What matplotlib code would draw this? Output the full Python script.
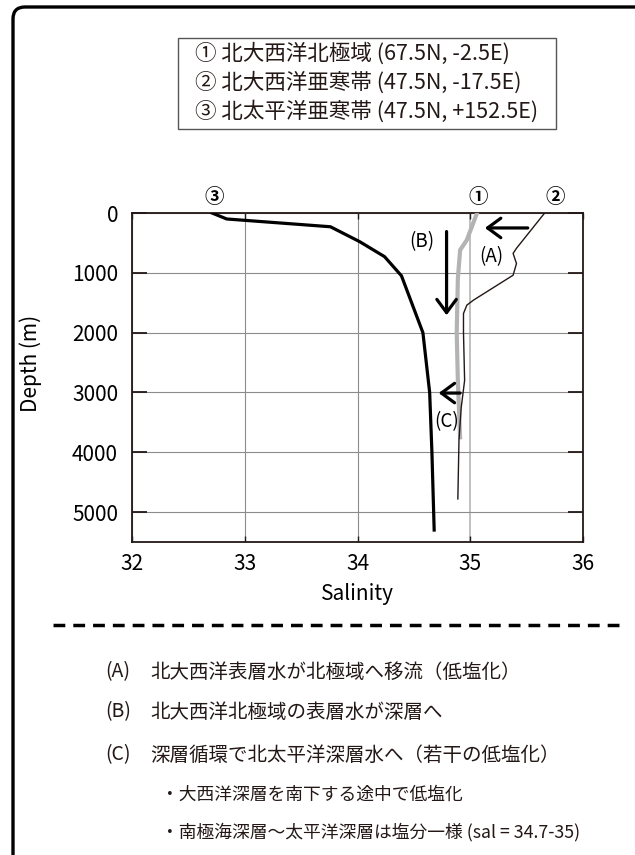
import matplotlib
matplotlib.use("Agg")
import matplotlib.pyplot as plt
from matplotlib.patches import Rectangle, FancyBboxPatch
from matplotlib.lines import Line2D
import matplotlib.transforms as mtransforms

plt.rcParams['font.family'] = ['Noto Sans CJK JP', 'DejaVu Sans']

# Salinity profiles (depth in m, salinity)
depth_st1 = [0, 450, 620, 1100, 2000, 2800, 3750]
sal_st1 = [35.06, 34.97, 34.91, 34.89, 34.88, 34.89, 34.91]

depth_st2 = [0, 590, 675, 845, 1040, 1455, 1540, 1680, 2000, 2800, 3250, 3800, 4780]
sal_st2 = [35.66, 35.41, 35.38, 35.41, 35.38, 35.03, 34.97, 34.94, 34.94, 34.95, 34.92, 34.90, 34.89]

depth_st3 = [0, 100, 230, 480, 730, 1050, 2000, 3000, 4000, 5300]
sal_st3 = [32.71, 32.84, 33.76, 34.02, 34.24, 34.39, 34.58, 34.64, 34.66, 34.68]

station_marks = ['①', '②', '③']
station_mark_sal = [35.07, 35.75, 32.73]

legend_lines = [
    '① 北大西洋北極域 (67.5N, -2.5E)',
    '② 北大西洋亜寒帯 (47.5N, -17.5E)',
    '③ 北太平洋亜寒帯 (47.5N, +152.5E)',
]

xticks = [32, 33, 34, 35, 36]
yticks = [0, 1000, 2000, 3000, 4000, 5000]

notes = [
    ('(A)', '北大西洋表層水が北極域へ移流（低塩化）'),
    ('(B)', '北大西洋北極域の表層水が深層へ'),
    ('(C)', '深層循環で北太平洋深層水へ（若干の低塩化）'),
]
sub_notes = [
    '・大西洋深層を南下する途中で低塩化',
    '・南極海深層〜太平洋深層は塩分一様 (sal = 34.7-35)',
]

W, H = 635, 855
fig = plt.figure(figsize=(W / 100, H / 100), dpi=100)

def fx(px):
    return px / W

def fy(py):
    return 1 - py / H

ink = '#231815'

# Outer rounded frame
frame = FancyBboxPatch((0.13, -0.4), 6.6, 8.55 - 0.07 + 0.4,
                       boxstyle='round,pad=0,rounding_size=0.12',
                       transform=fig.dpi_scale_trans, fill=False,
                       edgecolor='black', linewidth=2.4)
fig.patches.append(frame)

# Station legend box
fig.patches.append(Rectangle((fx(178), fy(129)), fx(378), 91 / H,
                             transform=fig.transFigure, fill=False,
                             edgecolor='#555555', linewidth=1.0))
for text, py in zip(legend_lines, [54, 83, 111]):
    fig.text(fx(195), fy(py), text, fontsize=15.5, va='center', ha='left', color=ink)

# Profile plot
ax = fig.add_axes([fx(132), fy(542), fx(583) - fx(132), (542 - 213) / H])
ax.plot(sal_st1, depth_st1, color='#b3b3b3', linewidth=3.0, zorder=3)
ax.plot(sal_st2, depth_st2, color=ink, linewidth=1.0, zorder=4)
ax.plot(sal_st3, depth_st3, color='black', linewidth=2.3, zorder=5)

ax.set_xlim(32, 36)
ax.set_ylim(5500, 0)
ax.set_xticks(xticks)
ax.set_yticks(yticks)
ax.grid(True, color='#8c8c8c', linewidth=0.8)
for gl, xv in zip(ax.get_xgridlines(), xticks):
    if xv == 35:
        gl.set_color('#c0c0c0')
        gl.set_linewidth(1.4)
ax.set_axisbelow(True)

for s in ax.spines.values():
    s.set_color(ink)
    s.set_linewidth(1.3)

ax.tick_params(axis='y', direction='in', length=11, width=1.3, color=ink,
               left=True, right=True, labelsize=15, pad=10)
ax.tick_params(axis='x', direction='in', length=4, width=1.0, color=ink,
               bottom=True, top=True, labelsize=15, pad=8)

ax.set_xlabel('Salinity', fontsize=15)
ax.set_ylabel('Depth (m)', fontsize=15)
ax.xaxis.set_label_coords(0.5, -0.125)
ax.yaxis.set_label_coords(-0.2, 0.544)

# Station markers above the axes
trans = mtransforms.blended_transform_factory(ax.transData, ax.transAxes)
for mark, xv in zip(station_marks, station_mark_sal):
    ax.text(xv, 1.046, mark, transform=trans, ha='center', va='center',
            fontsize=14, fontweight='bold', color='black', clip_on=False)

# Process arrows
arrow_kw = dict(arrowstyle='->,head_length=0.95,head_width=0.7',
                color='black', lw=2.3, shrinkA=0, shrinkB=0)
ax.annotate('', xy=(35.13, 250), xytext=(35.51, 250), arrowprops=arrow_kw, zorder=6)
ax.annotate('', xy=(34.79, 1710), xytext=(34.79, 310), arrowprops=arrow_kw, zorder=6)
ax.annotate('', xy=(34.72, 3010), xytext=(34.91, 3010), arrowprops=arrow_kw, zorder=6)
ax.text(35.19, 730, '(A)', fontsize=13.5, ha='center', va='center')
ax.text(34.57, 480, '(B)', fontsize=13.5, ha='center', va='center')
ax.text(34.79, 3495, '(C)', fontsize=13.5, ha='center', va='center')

# Dashed separator
fig.lines.append(Line2D([fx(53), fx(622)], [fy(625), fy(625)],
                        transform=fig.transFigure, color='black',
                        linewidth=2.5, dashes=(3.4, 2.3)))

# Explanatory notes
for (tag, body), py in zip(notes, [672, 712, 755]):
    fig.text(fx(105), fy(py), tag, fontsize=14, va='center', ha='left', color=ink)
    fig.text(fx(150), fy(py), body, fontsize=14, va='center', ha='left', color=ink)
for body, py in zip(sub_notes, [795, 832]):
    fig.text(fx(161), fy(py), body, fontsize=12.8, va='center', ha='left', color=ink)

fig.savefig('out.png', dpi=100)
